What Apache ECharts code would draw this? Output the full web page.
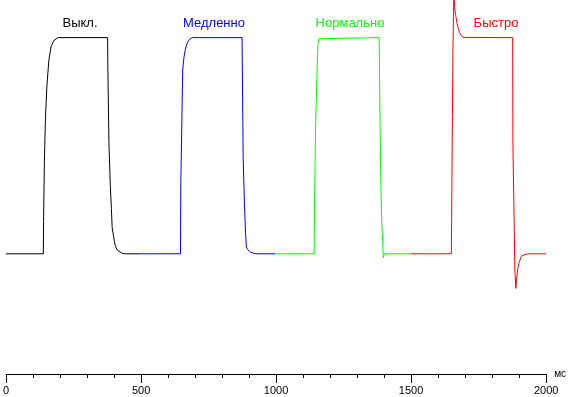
<!DOCTYPE html>
<html>
<head>
<meta charset="utf-8">
<script src="https://cdn.jsdelivr.net/npm/echarts@6/dist/echarts.min.js"></script>
<style>
html, body { margin: 0; padding: 0; background: #fff; }
#chart { width: 569px; height: 397px; }
</style>
</head>
<body>
<div id="chart"></div>
<script>
// время, мс / уровень (0 = чёрный, 100 = белый)
var modeNames = ['Выкл.', 'Медленно', 'Нормально', 'Быстро'];
var modeColors = ['#000000', '#0000ff', '#00ff00', '#ff0000'];

var offData = [[0,0],[138,0],[139,15],[142,43],[146,63],[151,77],[155,84],[159,90],[163,93],[167,96],
    [171,97],[176,98.5],[183,99.3],[192,100],[376,100],[377,86],[381,51],[386,32],[390,21],[393,12],
    [397,9],[401,6],[404,4],[408,2.7],[413,1.6],[419,0.8],[428,0.4],[438,0],[497,0]];

var slowData = [[497,0],[646,0],[647,31],[651,61],[654,85],[659,91],[663,94],[668,96.5],[673,98],
    [679,99.2],[690,100],[874,100],[875,85],[878,45],[883,22],[887,9.4],[890,3.1],[895,1.9],[899,1.2],
    [905,0.7],[914,0.4],[924,0],[997,0]];

var normalData = [[997,0],[1141,0],[1142,18.6],[1146,57],[1151,82],[1155,97.3],[1159,99.5],[1165,100],
    [1382,100],[1383,83],[1387,39],[1391,15],[1395,4.7],[1397,-1.8],[1399,-1.5],[1401,0],[1497,0]];

var fastData = [[1497,0],[1649,0],[1650,15.5],[1653,64],[1655,95],[1658,119],[1660,118],[1661,114],
    [1665,110.4],[1670,106.7],[1674,104.4],[1680,102.2],[1685,101.2],[1692,100.1],[1876,100],[1877,50],
    [1882,12],[1884,-7],[1888,-16],[1890,-16],[1891.5,-10.7],[1895,-6.9],[1899,-4.5],[1903,-3],
    [1906,-1.8],[1910,-0.8],[1916,-0.2],[1932,0],[2000,0]];

var xTicks = [0, 500, 1000, 1500, 2000];

var allData = [offData, slowData, normalData, fastData];
var labelX = [80, 214, 350, 496];

var myChart = echarts.init(document.getElementById('chart'));

var series = [];
for (var i = 0; i < allData.length; i++) {
    series.push({
        name: modeNames[i],
        type: 'line',
        data: allData[i],
        showSymbol: false,
        symbol: 'none',
        clip: true,
        silent: true,
        lineStyle: { color: modeColors[i], width: 1 }
    });
}

var graphics = [];
for (var j = 0; j < modeNames.length; j++) {
    graphics.push({
        type: 'text',
        x: labelX[j],
        y: 23,
        style: {
            text: modeNames[j],
            fill: modeColors[j],
            font: '13px "Liberation Sans", Arial, sans-serif',
            textAlign: 'center',
            textVerticalAlign: 'middle'
        }
    });
}

option = {
    animation: false,
    backgroundColor: '#fff',
    grid: {
        left: 5,
        right: 22,
        top: 0,
        bottom: 23
    },
    xAxis: {
        type: 'value',
        min: xTicks[0],
        max: xTicks[xTicks.length - 1],
        interval: 500,
        name: 'мс',
        nameLocation: 'end',
        nameGap: 8,
        nameTextStyle: {
            color: '#000',
            fontSize: 10,
            fontFamily: 'Liberation Sans',
            padding: [0, 0, 4, 0]
        },
        axisLine: { onZero: false, lineStyle: { color: '#000', width: 1 } },
        axisTick: { show: true, length: 9, lineStyle: { color: '#000' } },
        minorTick: { show: true, splitNumber: 5, length: 4, lineStyle: { color: '#000' } },
        splitLine: { show: false },
        axisLabel: {
            color: '#000',
            fontSize: 11,
            fontFamily: 'Liberation Sans',
            margin: 11,
            formatter: function (v) { return String(v); }
        }
    },
    yAxis: {
        type: 'value',
        show: false,
        min: -55.6,
        max: 117.4,
        splitLine: { show: false }
    },
    graphic: graphics,
    series: series
};

myChart.setOption(option);
</script>
</body>
</html>
